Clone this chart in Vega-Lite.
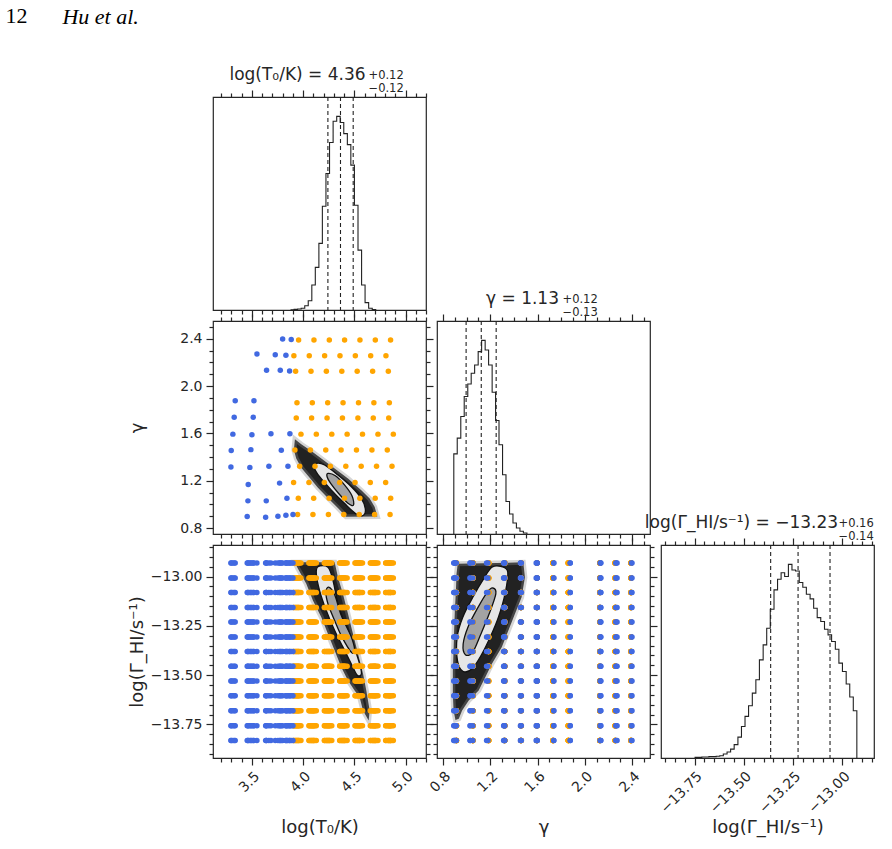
{
"$schema": "https://vega.github.io/schema/vega-lite/v6.json",
"padding": 5,
"background": "white",
"title": {"text": "12", "anchor": "start", "font": "Liberation Serif", "fontSize": 22, "fontWeight": "normal", "color": "#000000", "dx": -57, "offset": -22},
"datasets": {
"grid": [
{"t":3.956,"g":2.389,"c":"o"},{"t":4.106,"g":2.389,"c":"o"},{"t":4.256,"g":2.389,"c":"o"},{"t":4.405,"g":2.389,"c":"o"},{"t":4.555,"g":2.389,"c":"o"},{"t":4.705,"g":2.389,"c":"o"},{"t":4.854,"g":2.389,"c":"o"},
{"t":3.910,"g":2.256,"c":"o"},{"t":4.060,"g":2.256,"c":"o"},{"t":4.210,"g":2.256,"c":"o"},{"t":4.360,"g":2.256,"c":"o"},{"t":4.510,"g":2.256,"c":"o"},{"t":4.660,"g":2.256,"c":"o"},{"t":4.809,"g":2.256,"c":"o"},
{"t":3.927,"g":2.126,"c":"o"},{"t":4.077,"g":2.126,"c":"o"},{"t":4.227,"g":2.126,"c":"o"},{"t":4.378,"g":2.126,"c":"o"},{"t":4.528,"g":2.126,"c":"o"},{"t":4.679,"g":2.126,"c":"o"},{"t":4.832,"g":2.126,"c":"o"},
{"t":3.940,"g":1.860,"c":"o"},{"t":4.090,"g":1.860,"c":"o"},{"t":4.240,"g":1.860,"c":"o"},{"t":4.390,"g":1.860,"c":"o"},{"t":4.541,"g":1.860,"c":"o"},{"t":4.691,"g":1.860,"c":"o"},{"t":4.842,"g":1.860,"c":"o"},
{"t":3.933,"g":1.730,"c":"o"},{"t":4.083,"g":1.730,"c":"o"},{"t":4.234,"g":1.730,"c":"o"},{"t":4.384,"g":1.730,"c":"o"},{"t":4.535,"g":1.730,"c":"o"},{"t":4.685,"g":1.730,"c":"o"},{"t":4.836,"g":1.730,"c":"o"},
{"t":3.979,"g":1.594,"c":"o"},{"t":4.129,"g":1.594,"c":"o"},{"t":4.280,"g":1.594,"c":"o"},{"t":4.430,"g":1.594,"c":"o"},{"t":4.580,"g":1.594,"c":"o"},{"t":4.731,"g":1.594,"c":"o"},{"t":4.881,"g":1.594,"c":"o"},
{"t":3.920,"g":1.460,"c":"o"},{"t":4.071,"g":1.460,"c":"o"},{"t":4.221,"g":1.460,"c":"o"},{"t":4.371,"g":1.460,"c":"o"},{"t":4.521,"g":1.460,"c":"o"},{"t":4.672,"g":1.460,"c":"o"},{"t":4.822,"g":1.460,"c":"o"},
{"t":3.966,"g":1.322,"c":"o"},{"t":4.116,"g":1.322,"c":"o"},{"t":4.266,"g":1.322,"c":"o"},{"t":4.417,"g":1.322,"c":"o"},{"t":4.567,"g":1.322,"c":"o"},{"t":4.717,"g":1.322,"c":"o"},{"t":4.868,"g":1.322,"c":"o"},
{"t":3.907,"g":1.186,"c":"o"},{"t":4.057,"g":1.186,"c":"o"},{"t":4.207,"g":1.186,"c":"o"},{"t":4.357,"g":1.186,"c":"o"},{"t":4.507,"g":1.186,"c":"o"},{"t":4.656,"g":1.186,"c":"o"},{"t":4.806,"g":1.186,"c":"o"},
{"t":3.953,"g":1.053,"c":"o"},{"t":4.103,"g":1.053,"c":"o"},{"t":4.254,"g":1.053,"c":"o"},{"t":4.404,"g":1.053,"c":"o"},{"t":4.554,"g":1.053,"c":"o"},{"t":4.704,"g":1.053,"c":"o"},{"t":4.855,"g":1.053,"c":"o"},
{"t":3.946,"g":0.914,"c":"o"},{"t":4.096,"g":0.914,"c":"o"},{"t":4.247,"g":0.914,"c":"o"},{"t":4.397,"g":0.914,"c":"o"},{"t":4.548,"g":0.914,"c":"o"},{"t":4.698,"g":0.914,"c":"o"},{"t":4.849,"g":0.914,"c":"o"},
{"t":3.800,"g":2.398,"c":"b"},{"t":3.884,"g":2.393,"c":"b"},
{"t":3.549,"g":2.272,"c":"b"},{"t":3.728,"g":2.264,"c":"b"},{"t":3.832,"g":2.261,"c":"b"},
{"t":3.643,"g":2.134,"c":"b"},{"t":3.777,"g":2.134,"c":"b"},{"t":3.868,"g":2.128,"c":"b"},
{"t":3.337,"g":1.876,"c":"b"},{"t":3.520,"g":1.876,"c":"b"},
{"t":3.327,"g":1.737,"c":"b"},{"t":3.513,"g":1.737,"c":"b"},
{"t":3.314,"g":1.594,"c":"b"},{"t":3.500,"g":1.588,"c":"b"},{"t":3.686,"g":1.597,"c":"b"},{"t":3.871,"g":1.597,"c":"b"},
{"t":3.298,"g":1.455,"c":"b"},{"t":3.490,"g":1.463,"c":"b"},{"t":3.787,"g":1.458,"c":"b"},
{"t":3.295,"g":1.316,"c":"b"},{"t":3.480,"g":1.313,"c":"b"},{"t":3.666,"g":1.322,"c":"b"},{"t":3.852,"g":1.322,"c":"b"},
{"t":3.464,"g":1.169,"c":"b"},{"t":3.770,"g":1.180,"c":"b"},
{"t":3.461,"g":1.030,"c":"b"},{"t":3.640,"g":1.030,"c":"b"},{"t":3.842,"g":1.053,"c":"b"},
{"t":3.454,"g":0.897,"c":"b"},{"t":3.634,"g":0.891,"c":"b"},{"t":3.754,"g":0.900,"c":"b"},{"t":3.832,"g":0.908,"c":"b"},{"t":3.901,"g":0.914,"c":"b"}
],
"gv": [
{"c":"o","G":[-12.931,-13.007,-13.081,-13.157,-13.23,-13.306,-13.38,-13.455,-13.529,-13.604,-13.681,-13.757,-13.831]},
{"c":"b","G":[-12.931,-13.007,-13.081,-13.157,-13.23,-13.306,-13.38,-13.455,-13.529,-13.604,-13.681,-13.757,-13.831]}
],
"hT": [
{"i":0,"x":3.877,"h":0.001},{"i":1,"x":3.912,"h":0.003},{"i":2,"x":3.946,"h":0.005},{"i":3,"x":3.981,"h":0.009},{"i":4,"x":4.016,"h":0.022},{"i":5,"x":4.050,"h":0.048},{"i":6,"x":4.085,"h":0.129},{"i":7,"x":4.119,"h":0.220},{"i":8,"x":4.154,"h":0.344},{"i":9,"x":4.188,"h":0.536},{"i":10,"x":4.223,"h":0.705},{"i":11,"x":4.258,"h":0.865},{"i":12,"x":4.293,"h":0.975},{"i":13,"x":4.328,"h":1.0},{"i":14,"x":4.362,"h":0.968},{"i":15,"x":4.397,"h":0.911},{"i":16,"x":4.432,"h":0.854},{"i":17,"x":4.466,"h":0.748},{"i":18,"x":4.501,"h":0.541},{"i":19,"x":4.536,"h":0.309},{"i":20,"x":4.571,"h":0.129},{"i":21,"x":4.605,"h":0.038},{"i":22,"x":4.640,"h":0.009},{"i":23,"x":4.675,"h":0.002},{"i":24,"x":4.709,"h":0}
],
"hg": [
{"i":0,"x":0.892,"h":0},{"i":1,"x":0.892,"h":0.414},{"i":2,"x":0.921,"h":0.495},{"i":3,"x":0.951,"h":0.607},{"i":4,"x":0.980,"h":0.710},{"i":5,"x":1.010,"h":0.775},{"i":6,"x":1.039,"h":0.830},{"i":7,"x":1.068,"h":0.873},{"i":8,"x":1.098,"h":0.942},{"i":9,"x":1.127,"h":1.0},{"i":10,"x":1.157,"h":0.950},{"i":11,"x":1.186,"h":0.873},{"i":12,"x":1.216,"h":0.732},{"i":13,"x":1.245,"h":0.586},{"i":14,"x":1.274,"h":0.461},{"i":15,"x":1.304,"h":0.306},{"i":16,"x":1.333,"h":0.168},{"i":17,"x":1.363,"h":0.103},{"i":18,"x":1.392,"h":0.057},{"i":19,"x":1.421,"h":0.031},{"i":20,"x":1.451,"h":0.014},{"i":21,"x":1.480,"h":0.005},{"i":22,"x":1.510,"h":0}
],
"hG": [
{"i":0,"x":-13.750,"h":0.003},{"i":1,"x":-13.732,"h":0.003},{"i":2,"x":-13.713,"h":0.005},{"i":3,"x":-13.695,"h":0.005},{"i":4,"x":-13.677,"h":0.007},{"i":5,"x":-13.659,"h":0.007},{"i":6,"x":-13.640,"h":0.009},{"i":7,"x":-13.622,"h":0.012},{"i":8,"x":-13.604,"h":0.021},{"i":9,"x":-13.585,"h":0.031},{"i":10,"x":-13.567,"h":0.046},{"i":11,"x":-13.549,"h":0.069},{"i":12,"x":-13.530,"h":0.108},{"i":13,"x":-13.512,"h":0.163},{"i":14,"x":-13.494,"h":0.215},{"i":15,"x":-13.476,"h":0.270},{"i":16,"x":-13.457,"h":0.335},{"i":17,"x":-13.439,"h":0.404},{"i":18,"x":-13.421,"h":0.507},{"i":19,"x":-13.402,"h":0.584},{"i":20,"x":-13.384,"h":0.670},{"i":21,"x":-13.366,"h":0.768},{"i":22,"x":-13.347,"h":0.868},{"i":23,"x":-13.329,"h":0.923},{"i":24,"x":-13.311,"h":0.957},{"i":25,"x":-13.293,"h":0.937},{"i":26,"x":-13.274,"h":1.0},{"i":27,"x":-13.256,"h":0.971},{"i":28,"x":-13.238,"h":0.966},{"i":29,"x":-13.219,"h":0.906},{"i":30,"x":-13.201,"h":0.882},{"i":31,"x":-13.183,"h":0.846},{"i":32,"x":-13.164,"h":0.822},{"i":33,"x":-13.146,"h":0.773},{"i":34,"x":-13.128,"h":0.725},{"i":35,"x":-13.110,"h":0.705},{"i":36,"x":-13.091,"h":0.665},{"i":37,"x":-13.073,"h":0.636},{"i":38,"x":-13.055,"h":0.602},{"i":39,"x":-13.036,"h":0.562},{"i":40,"x":-13.018,"h":0.490},{"i":41,"x":-13.000,"h":0.447},{"i":42,"x":-12.981,"h":0.382},{"i":43,"x":-12.963,"h":0.315},{"i":44,"x":-12.945,"h":0.244},{"i":45,"x":-12.927,"h":0}
],
"qT": [{"q":4.242},{"q":4.365},{"q":4.489}],
"qg": [{"q":0.996},{"q":1.124},{"q":1.250}],
"qG": [{"q":-13.364},{"q":-13.225},{"q":-13.063}],
"dTg": [
{"p":"h","i":0,"t":3.920,"g":1.550},{"p":"h","i":1,"t":3.982,"g":1.508},{"p":"h","i":2,"t":4.080,"g":1.452},{"p":"h","i":3,"t":4.178,"g":1.389},{"p":"h","i":4,"t":4.308,"g":1.304},{"p":"h","i":5,"t":4.438,"g":1.219},{"p":"h","i":6,"t":4.568,"g":1.120},{"p":"h","i":7,"t":4.650,"g":1.049},{"p":"h","i":8,"t":4.699,"g":0.978},{"p":"h","i":9,"t":4.725,"g":0.898},{"p":"h","i":10,"t":4.420,"g":0.896},{"p":"h","i":11,"t":4.340,"g":0.970},{"p":"h","i":12,"t":4.242,"g":1.055},{"p":"h","i":13,"t":4.145,"g":1.140},{"p":"h","i":14,"t":4.064,"g":1.225},{"p":"h","i":15,"t":3.982,"g":1.310},{"p":"h","i":16,"t":3.933,"g":1.389},{"p":"h","i":17,"t":3.910,"g":1.460},
{"p":"l","i":0,"t":4.129,"g":1.347},{"p":"l","i":1,"t":4.210,"g":1.333},{"p":"l","i":2,"t":4.340,"g":1.248},{"p":"l","i":3,"t":4.471,"g":1.149},{"p":"l","i":4,"t":4.568,"g":1.050},{"p":"l","i":5,"t":4.607,"g":0.965},{"p":"l","i":6,"t":4.590,"g":0.908},{"p":"l","i":7,"t":4.520,"g":0.918},{"p":"l","i":8,"t":4.406,"g":1.007},{"p":"l","i":9,"t":4.276,"g":1.121},{"p":"l","i":10,"t":4.161,"g":1.234},{"p":"l","i":11,"t":4.112,"g":1.305},
{"p":"n","i":0,"t":4.243,"g":1.262},{"p":"n","i":1,"t":4.315,"g":1.242},{"p":"n","i":2,"t":4.406,"g":1.163},{"p":"n","i":3,"t":4.478,"g":1.072},{"p":"n","i":4,"t":4.492,"g":0.995},{"p":"n","i":5,"t":4.438,"g":1.010},{"p":"n","i":6,"t":4.347,"g":1.092},{"p":"n","i":7,"t":4.269,"g":1.177},{"p":"n","i":8,"t":4.234,"g":1.234}
],
"dTG": [
{"p":"h","i":0,"t":3.917,"G":-12.928},{"p":"h","i":1,"t":4.308,"G":-12.928},{"p":"h","i":2,"t":4.340,"G":-13.004},{"p":"h","i":3,"t":4.389,"G":-13.088},{"p":"h","i":4,"t":4.438,"G":-13.189},{"p":"h","i":5,"t":4.487,"G":-13.291},{"p":"h","i":6,"t":4.536,"G":-13.392},{"p":"h","i":7,"t":4.585,"G":-13.493},{"p":"h","i":8,"t":4.617,"G":-13.578},{"p":"h","i":9,"t":4.650,"G":-13.679},{"p":"h","i":10,"t":4.640,"G":-13.730},{"p":"h","i":11,"t":4.585,"G":-13.679},{"p":"h","i":12,"t":4.552,"G":-13.612},{"p":"h","i":13,"t":4.503,"G":-13.578},{"p":"h","i":14,"t":4.438,"G":-13.527},{"p":"h","i":15,"t":4.373,"G":-13.460},{"p":"h","i":16,"t":4.308,"G":-13.375},{"p":"h","i":17,"t":4.243,"G":-13.291},{"p":"h","i":18,"t":4.178,"G":-13.206},{"p":"h","i":19,"t":4.096,"G":-13.122},{"p":"h","i":20,"t":4.031,"G":-13.037},{"p":"h","i":21,"t":3.950,"G":-12.961},
{"p":"l","i":0,"t":4.145,"G":-12.950},{"p":"l","i":1,"t":4.243,"G":-12.953},{"p":"l","i":2,"t":4.292,"G":-13.021},{"p":"l","i":3,"t":4.340,"G":-13.139},{"p":"l","i":4,"t":4.406,"G":-13.240},{"p":"l","i":5,"t":4.487,"G":-13.341},{"p":"l","i":6,"t":4.552,"G":-13.443},{"p":"l","i":7,"t":4.569,"G":-13.493},{"p":"l","i":8,"t":4.529,"G":-13.500},{"p":"l","i":9,"t":4.471,"G":-13.443},{"p":"l","i":10,"t":4.389,"G":-13.358},{"p":"l","i":11,"t":4.308,"G":-13.274},{"p":"l","i":12,"t":4.226,"G":-13.172},{"p":"l","i":13,"t":4.161,"G":-13.071},{"p":"l","i":14,"t":4.129,"G":-12.987},
{"p":"n","i":0,"t":4.249,"G":-13.054},{"p":"n","i":1,"t":4.308,"G":-13.092},{"p":"n","i":2,"t":4.373,"G":-13.198},{"p":"n","i":3,"t":4.471,"G":-13.307},{"p":"n","i":4,"t":4.503,"G":-13.375},{"p":"n","i":5,"t":4.471,"G":-13.384},{"p":"n","i":6,"t":4.380,"G":-13.307},{"p":"n","i":7,"t":4.308,"G":-13.223},{"p":"n","i":8,"t":4.243,"G":-13.139},{"p":"n","i":9,"t":4.223,"G":-13.080}
],
"dgG": [
{"p":"h","i":0,"g":0.925,"G":-12.935},{"p":"h","i":1,"g":1.479,"G":-12.928},{"p":"h","i":2,"g":1.493,"G":-13.004},{"p":"h","i":3,"g":1.465,"G":-13.105},{"p":"h","i":4,"g":1.409,"G":-13.189},{"p":"h","i":5,"g":1.353,"G":-13.274},{"p":"h","i":6,"g":1.297,"G":-13.358},{"p":"h","i":7,"g":1.213,"G":-13.443},{"p":"h","i":8,"g":1.158,"G":-13.510},{"p":"h","i":9,"g":1.102,"G":-13.578},{"p":"h","i":10,"g":1.018,"G":-13.628},{"p":"h","i":11,"g":0.962,"G":-13.679},{"p":"h","i":12,"g":0.934,"G":-13.721},{"p":"h","i":13,"g":0.906,"G":-13.727},{"p":"h","i":14,"g":0.890,"G":-13.679},{"p":"h","i":15,"g":0.884,"G":-13.595},{"p":"h","i":16,"g":0.884,"G":-13.477},{"p":"h","i":17,"g":0.890,"G":-13.375},{"p":"h","i":18,"g":0.895,"G":-13.274},{"p":"h","i":19,"g":0.901,"G":-13.172},{"p":"h","i":20,"g":0.910,"G":-13.071},{"p":"h","i":21,"g":0.915,"G":-12.987},
{"p":"l","i":0,"g":1.214,"G":-12.953},{"p":"l","i":1,"g":1.297,"G":-12.950},{"p":"l","i":2,"g":1.348,"G":-12.978},{"p":"l","i":3,"g":1.325,"G":-13.088},{"p":"l","i":4,"g":1.269,"G":-13.206},{"p":"l","i":5,"g":1.199,"G":-13.308},{"p":"l","i":6,"g":1.130,"G":-13.392},{"p":"l","i":7,"g":1.046,"G":-13.468},{"p":"l","i":8,"g":0.968,"G":-13.480},{"p":"l","i":9,"g":0.923,"G":-13.426},{"p":"l","i":10,"g":0.920,"G":-13.308},{"p":"l","i":11,"g":0.968,"G":-13.206},{"p":"l","i":12,"g":1.060,"G":-13.097},{"p":"l","i":13,"g":1.144,"G":-13.012},
{"p":"n","i":0,"g":1.222,"G":-13.058},{"p":"n","i":1,"g":1.247,"G":-13.088},{"p":"n","i":2,"g":1.191,"G":-13.189},{"p":"n","i":3,"g":1.121,"G":-13.291},{"p":"n","i":4,"g":1.051,"G":-13.384},{"p":"n","i":5,"g":0.990,"G":-13.396},{"p":"n","i":6,"g":0.971,"G":-13.342},{"p":"n","i":7,"g":1.013,"G":-13.254},{"p":"n","i":8,"g":1.094,"G":-13.159},{"p":"n","i":9,"g":1.174,"G":-13.080}
]
},
"vconcat": [{
"title": {"text": "Hu et al.", "anchor": "start", "font": "Liberation Serif", "fontSize": 22, "fontStyle": "italic", "fontWeight": "normal", "color": "#000000", "dx": -65, "offset": 36},
"columns": 3,
"spacing": 11,
"bounds": "flush",
"concat": [
{
"width": 213, "height": 213,
"title": {"text": "log(T₀/K) = 4.36", "offset": -15, "fontSize": 17, "dx": -22},
"layer": [
{"data": {"name": "hT"}, "mark": {"type": "line", "interpolate": "step-after", "color": "#222222", "strokeWidth": 1.1},
 "encoding": {
  "x": {"field": "x", "type": "quantitative", "scale": {"domain": [3.12, 5.2], "nice": false, "zero": false},
        "axis": {"orient": "bottom", "values": [3.2,3.3,3.4,3.5,3.6,3.7,3.8,3.9,4.0,4.1,4.2,4.3,4.4,4.5,4.6,4.7,4.8,4.9,5.0,5.1,5.2], "labels": false, "title": null, "tickSize": {"condition": {"test": "abs(datum.value*2-round(datum.value*2))<0.001", "value": 7}, "value": 4}}},
  "y": {"field": "h", "type": "quantitative", "scale": {"domain": [0, 1.1], "nice": false}, "axis": null},
  "order": {"field": "i", "type": "quantitative"}}},
{"data": {"name": "qT"}, "mark": {"type": "rule", "color": "#222222", "strokeDash": [4, 3], "strokeWidth": 1.1},
 "encoding": {
  "x": {"field": "q", "type": "quantitative", "scale": {"domain": [3.12, 5.2], "nice": false, "zero": false},
        "axis": {"orient": "top", "values": [3.2,3.3,3.4,3.5,3.6,3.7,3.8,3.9,4.0,4.1,4.2,4.3,4.4,4.5,4.6,4.7,4.8,4.9,5.0,5.1,5.2], "labels": false, "title": ["+0.12", "−0.12"], "titleX": 155, "titleY": -28, "titleAlign": "left", "titleBaseline": "top", "titleAngle": 0, "titleFontSize": 11.5, "titleLineHeight": 13, "tickSize": {"condition": {"test": "abs(datum.value*2-round(datum.value*2))<0.001", "value": 7}, "value": 4}}}}}
],
"resolve": {"axis": {"x": "independent"}}
},
{"width": 213, "height": 213, "data": {"values": []}, "mark": "point", "encoding": {}, "view": {"stroke": null}},
{"width": 213, "height": 213, "data": {"values": []}, "mark": "point", "encoding": {}, "view": {"stroke": null}},
{
"width": 213, "height": 213,
"layer": [
{"data": {"name": "dTg"}, "transform": [{"filter": "datum.p == 'h'"}],
 "mark": {"type": "line", "interpolate": "linear-closed", "fill": "#222222", "stroke": "#888888", "strokeWidth": 5, "strokeOpacity": 0.35},
 "encoding": {
  "x": {"field": "t", "type": "quantitative", "scale": {"domain": [3.12, 5.2], "nice": false, "zero": false},
        "axis": {"orient": "bottom", "values": [3.2,3.3,3.4,3.5,3.6,3.7,3.8,3.9,4.0,4.1,4.2,4.3,4.4,4.5,4.6,4.7,4.8,4.9,5.0,5.1,5.2], "labels": false, "title": null, "tickSize": {"condition": {"test": "abs(datum.value*2-round(datum.value*2))<0.001", "value": 7}, "value": 4}}},
  "y": {"field": "g", "type": "quantitative", "scale": {"domain": [0.75, 2.55], "nice": false, "zero": false},
        "axis": {"orient": "left", "values": [0.8,0.9,1.0,1.1,1.2,1.3,1.4,1.5,1.6,1.7,1.8,1.9,2.0,2.1,2.2,2.3,2.4,2.5], "format": ".1f", "labelExpr": "abs(datum.value*2.5-round(datum.value*2.5))<0.001 ? datum.label : ''", "labelOverlap": false, "labelFlush": false, "title": "γ", "titleX": -67, "tickSize": {"condition": {"test": "abs(datum.value*2.5-round(datum.value*2.5))<0.001", "value": 7}, "value": 4}}},
  "order": {"field": "i", "type": "quantitative"}}},
{"data": {"name": "dTg"}, "transform": [{"filter": "datum.p == 'l'"}],
 "mark": {"type": "line", "interpolate": "cardinal-closed", "fill": "#e6e6e6", "stroke": "#111111", "strokeWidth": 1.3},
 "encoding": {
  "x": {"field": "t", "type": "quantitative", "scale": {"domain": [3.12, 5.2], "nice": false, "zero": false},
        "axis": {"orient": "top", "values": [3.2,3.3,3.4,3.5,3.6,3.7,3.8,3.9,4.0,4.1,4.2,4.3,4.4,4.5,4.6,4.7,4.8,4.9,5.0,5.1,5.2], "labels": false, "title": null, "tickSize": {"condition": {"test": "abs(datum.value*2-round(datum.value*2))<0.001", "value": 7}, "value": 4}}},
  "y": {"field": "g", "type": "quantitative", "scale": {"domain": [0.75, 2.55], "nice": false, "zero": false},
        "axis": {"orient": "right", "values": [0.8,0.9,1.0,1.1,1.2,1.3,1.4,1.5,1.6,1.7,1.8,1.9,2.0,2.1,2.2,2.3,2.4,2.5], "labels": false, "title": null, "tickSize": {"condition": {"test": "abs(datum.value*2.5-round(datum.value*2.5))<0.001", "value": 7}, "value": 4}}},
  "order": {"field": "i", "type": "quantitative"}}},
{"data": {"name": "dTg"}, "transform": [{"filter": "datum.p == 'n'"}],
 "mark": {"type": "line", "interpolate": "cardinal-closed", "fill": "#a3a3a3", "stroke": "#111111", "strokeWidth": 1.3},
 "encoding": {
  "x": {"field": "t", "type": "quantitative", "scale": {"domain": [3.12, 5.2], "nice": false, "zero": false}, "axis": null},
  "y": {"field": "g", "type": "quantitative", "scale": {"domain": [0.75, 2.55], "nice": false, "zero": false}, "axis": null},
  "order": {"field": "i", "type": "quantitative"}}},
{"data": {"name": "grid"},
 "mark": {"type": "circle", "size": 30, "opacity": 1},
 "encoding": {
  "x": {"field": "t", "type": "quantitative", "scale": {"domain": [3.12, 5.2], "nice": false, "zero": false}, "axis": null},
  "y": {"field": "g", "type": "quantitative", "scale": {"domain": [0.75, 2.55], "nice": false, "zero": false}, "axis": null},
  "color": {"field": "c", "type": "nominal", "scale": {"domain": ["o", "b"], "range": ["#ffa500", "#4169e1"]}, "legend": null}}}
],
"resolve": {"axis": {"x": "independent", "y": "independent"}}
},
{
"width": 213, "height": 213,
"title": {"text": "γ = 1.13", "offset": -15, "fontSize": 17, "dx": -21},
"layer": [
{"data": {"name": "hg"}, "mark": {"type": "line", "interpolate": "step-after", "color": "#222222", "strokeWidth": 1.1},
 "encoding": {
  "x": {"field": "x", "type": "quantitative", "scale": {"domain": [0.75, 2.55], "nice": false, "zero": false},
        "axis": {"orient": "bottom", "values": [0.8,0.9,1.0,1.1,1.2,1.3,1.4,1.5,1.6,1.7,1.8,1.9,2.0,2.1,2.2,2.3,2.4,2.5], "labels": false, "title": null, "tickSize": {"condition": {"test": "abs(datum.value*2.5-round(datum.value*2.5))<0.001", "value": 7}, "value": 4}}},
  "y": {"field": "h", "type": "quantitative", "scale": {"domain": [0, 1.1], "nice": false}, "axis": null},
  "order": {"field": "i", "type": "quantitative"}}},
{"data": {"name": "qg"}, "mark": {"type": "rule", "color": "#222222", "strokeDash": [4, 3], "strokeWidth": 1.1},
 "encoding": {
  "x": {"field": "q", "type": "quantitative", "scale": {"domain": [0.75, 2.55], "nice": false, "zero": false},
        "axis": {"orient": "top", "values": [0.8,0.9,1.0,1.1,1.2,1.3,1.4,1.5,1.6,1.7,1.8,1.9,2.0,2.1,2.2,2.3,2.4,2.5], "labels": false, "title": ["+0.12", "−0.13"], "titleX": 125, "titleY": -28, "titleAlign": "left", "titleBaseline": "top", "titleAngle": 0, "titleFontSize": 11.5, "titleLineHeight": 13, "tickSize": {"condition": {"test": "abs(datum.value*2.5-round(datum.value*2.5))<0.001", "value": 7}, "value": 4}}}}}
],
"resolve": {"axis": {"x": "independent"}}
},
{"width": 213, "height": 213, "data": {"values": []}, "mark": "point", "encoding": {}, "view": {"stroke": null}},
{
"width": 213, "height": 213,
"layer": [
{"data": {"name": "dTG"}, "transform": [{"filter": "datum.p == 'h'"}],
 "mark": {"type": "line", "interpolate": "linear-closed", "fill": "#222222", "stroke": "#888888", "strokeWidth": 5, "strokeOpacity": 0.35},
 "encoding": {
  "x": {"field": "t", "type": "quantitative", "scale": {"domain": [3.12, 5.2], "nice": false, "zero": false},
        "axis": {"orient": "bottom", "values": [3.2,3.3,3.4,3.5,3.6,3.7,3.8,3.9,4.0,4.1,4.2,4.3,4.4,4.5,4.6,4.7,4.8,4.9,5.0,5.1,5.2], "format": ".1f", "labelExpr": "abs(datum.value*2-round(datum.value*2))<0.001 ? datum.label : ''", "labelAngle": -45, "labelAlign": "right", "labelBaseline": "top", "labelOverlap": false, "labelFlush": false, "title": "log(T₀/K)", "titleY": 60, "titleBaseline": "top", "tickSize": {"condition": {"test": "abs(datum.value*2-round(datum.value*2))<0.001", "value": 7}, "value": 4}}},
  "y": {"field": "G", "type": "quantitative", "scale": {"domain": [-13.92, -12.84], "nice": false, "zero": false},
        "axis": {"orient": "left", "values": [-13.9,-13.85,-13.8,-13.75,-13.7,-13.65,-13.6,-13.55,-13.5,-13.45,-13.4,-13.35,-13.3,-13.25,-13.2,-13.15,-13.1,-13.05,-13.0,-12.95,-12.9,-12.85], "format": ".2f", "labelExpr": "abs(datum.value*4-round(datum.value*4))<0.001 ? datum.label : ''", "labelOverlap": false, "labelFlush": false, "title": "log(Γ_HI/s⁻¹)", "titleX": -67, "tickSize": {"condition": {"test": "abs(datum.value*4-round(datum.value*4))<0.001", "value": 7}, "value": 4}}},
  "order": {"field": "i", "type": "quantitative"}}},
{"data": {"name": "dTG"}, "transform": [{"filter": "datum.p == 'l'"}],
 "mark": {"type": "line", "interpolate": "cardinal-closed", "fill": "#e6e6e6", "stroke": "#111111", "strokeWidth": 1.3},
 "encoding": {
  "x": {"field": "t", "type": "quantitative", "scale": {"domain": [3.12, 5.2], "nice": false, "zero": false},
        "axis": {"orient": "top", "values": [3.2,3.3,3.4,3.5,3.6,3.7,3.8,3.9,4.0,4.1,4.2,4.3,4.4,4.5,4.6,4.7,4.8,4.9,5.0,5.1,5.2], "labels": false, "title": null, "tickSize": {"condition": {"test": "abs(datum.value*2-round(datum.value*2))<0.001", "value": 7}, "value": 4}}},
  "y": {"field": "G", "type": "quantitative", "scale": {"domain": [-13.92, -12.84], "nice": false, "zero": false},
        "axis": {"orient": "right", "values": [-13.9,-13.85,-13.8,-13.75,-13.7,-13.65,-13.6,-13.55,-13.5,-13.45,-13.4,-13.35,-13.3,-13.25,-13.2,-13.15,-13.1,-13.05,-13.0,-12.95,-12.9,-12.85], "labels": false, "title": null, "tickSize": {"condition": {"test": "abs(datum.value*4-round(datum.value*4))<0.001", "value": 7}, "value": 4}}},
  "order": {"field": "i", "type": "quantitative"}}},
{"data": {"name": "dTG"}, "transform": [{"filter": "datum.p == 'n'"}],
 "mark": {"type": "line", "interpolate": "cardinal-closed", "fill": "#a3a3a3", "stroke": "#111111", "strokeWidth": 1.3},
 "encoding": {
  "x": {"field": "t", "type": "quantitative", "scale": {"domain": [3.12, 5.2], "nice": false, "zero": false}, "axis": null},
  "y": {"field": "G", "type": "quantitative", "scale": {"domain": [-13.92, -12.84], "nice": false, "zero": false}, "axis": null},
  "order": {"field": "i", "type": "quantitative"}}},
{"data": {"name": "grid"},
 "transform": [{"lookup": "c", "from": {"data": {"name": "gv"}, "key": "c", "fields": ["G"]}}, {"flatten": ["G"]}],
 "mark": {"type": "circle", "size": 30, "opacity": 1},
 "encoding": {
  "x": {"field": "t", "type": "quantitative", "scale": {"domain": [3.12, 5.2], "nice": false, "zero": false}, "axis": null},
  "y": {"field": "G", "type": "quantitative", "scale": {"domain": [-13.92, -12.84], "nice": false, "zero": false}, "axis": null},
  "color": {"field": "c", "type": "nominal", "scale": {"domain": ["o", "b"], "range": ["#ffa500", "#4169e1"]}, "legend": null}}}
],
"resolve": {"axis": {"x": "independent", "y": "independent"}}
},
{
"width": 213, "height": 213,
"layer": [
{"data": {"name": "dgG"}, "transform": [{"filter": "datum.p == 'h'"}],
 "mark": {"type": "line", "interpolate": "linear-closed", "fill": "#222222", "stroke": "#888888", "strokeWidth": 5, "strokeOpacity": 0.35},
 "encoding": {
  "x": {"field": "g", "type": "quantitative", "scale": {"domain": [0.75, 2.55], "nice": false, "zero": false},
        "axis": {"orient": "bottom", "values": [0.8,0.9,1.0,1.1,1.2,1.3,1.4,1.5,1.6,1.7,1.8,1.9,2.0,2.1,2.2,2.3,2.4,2.5], "format": ".1f", "labelExpr": "abs(datum.value*2.5-round(datum.value*2.5))<0.001 ? datum.label : ''", "labelAngle": -45, "labelAlign": "right", "labelBaseline": "top", "labelOverlap": false, "labelFlush": false, "title": "γ", "titleY": 60, "titleBaseline": "top", "tickSize": {"condition": {"test": "abs(datum.value*2.5-round(datum.value*2.5))<0.001", "value": 7}, "value": 4}}},
  "y": {"field": "G", "type": "quantitative", "scale": {"domain": [-13.92, -12.84], "nice": false, "zero": false},
        "axis": {"orient": "left", "values": [-13.9,-13.85,-13.8,-13.75,-13.7,-13.65,-13.6,-13.55,-13.5,-13.45,-13.4,-13.35,-13.3,-13.25,-13.2,-13.15,-13.1,-13.05,-13.0,-12.95,-12.9,-12.85], "labels": false, "title": null, "tickSize": {"condition": {"test": "abs(datum.value*4-round(datum.value*4))<0.001", "value": 7}, "value": 4}}},
  "order": {"field": "i", "type": "quantitative"}}},
{"data": {"name": "dgG"}, "transform": [{"filter": "datum.p == 'l'"}],
 "mark": {"type": "line", "interpolate": "cardinal-closed", "fill": "#e6e6e6", "stroke": "#111111", "strokeWidth": 1.3},
 "encoding": {
  "x": {"field": "g", "type": "quantitative", "scale": {"domain": [0.75, 2.55], "nice": false, "zero": false},
        "axis": {"orient": "top", "values": [0.8,0.9,1.0,1.1,1.2,1.3,1.4,1.5,1.6,1.7,1.8,1.9,2.0,2.1,2.2,2.3,2.4,2.5], "labels": false, "title": null, "tickSize": {"condition": {"test": "abs(datum.value*2.5-round(datum.value*2.5))<0.001", "value": 7}, "value": 4}}},
  "y": {"field": "G", "type": "quantitative", "scale": {"domain": [-13.92, -12.84], "nice": false, "zero": false},
        "axis": {"orient": "right", "values": [-13.9,-13.85,-13.8,-13.75,-13.7,-13.65,-13.6,-13.55,-13.5,-13.45,-13.4,-13.35,-13.3,-13.25,-13.2,-13.15,-13.1,-13.05,-13.0,-12.95,-12.9,-12.85], "labels": false, "title": null, "tickSize": {"condition": {"test": "abs(datum.value*4-round(datum.value*4))<0.001", "value": 7}, "value": 4}}},
  "order": {"field": "i", "type": "quantitative"}}},
{"data": {"name": "dgG"}, "transform": [{"filter": "datum.p == 'n'"}],
 "mark": {"type": "line", "interpolate": "cardinal-closed", "fill": "#a3a3a3", "stroke": "#111111", "strokeWidth": 1.3},
 "encoding": {
  "x": {"field": "g", "type": "quantitative", "scale": {"domain": [0.75, 2.55], "nice": false, "zero": false}, "axis": null},
  "y": {"field": "G", "type": "quantitative", "scale": {"domain": [-13.92, -12.84], "nice": false, "zero": false}, "axis": null},
  "order": {"field": "i", "type": "quantitative"}}},
{"data": {"name": "grid"},
 "transform": [{"lookup": "c", "from": {"data": {"name": "gv"}, "key": "c", "fields": ["G"]}}, {"flatten": ["G"]}],
 "mark": {"type": "circle", "size": 30, "opacity": 1},
 "encoding": {
  "x": {"field": "g", "type": "quantitative", "scale": {"domain": [0.75, 2.55], "nice": false, "zero": false}, "axis": null},
  "y": {"field": "G", "type": "quantitative", "scale": {"domain": [-13.92, -12.84], "nice": false, "zero": false}, "axis": null},
  "color": {"field": "c", "type": "nominal", "scale": {"domain": ["o", "b"], "range": ["#ffa500", "#4169e1"]}, "legend": null}}}
],
"resolve": {"axis": {"x": "independent", "y": "independent"}}
},
{
"width": 213, "height": 213,
"title": {"text": "log(Γ_HI/s⁻¹) = −13.23", "offset": -15, "fontSize": 17, "dx": -26},
"layer": [
{"data": {"name": "hG"}, "mark": {"type": "line", "interpolate": "step-after", "color": "#222222", "strokeWidth": 1.1},
 "encoding": {
  "x": {"field": "x", "type": "quantitative", "scale": {"domain": [-13.92, -12.84], "nice": false, "zero": false},
        "axis": {"orient": "bottom", "values": [-13.9,-13.85,-13.8,-13.75,-13.7,-13.65,-13.6,-13.55,-13.5,-13.45,-13.4,-13.35,-13.3,-13.25,-13.2,-13.15,-13.1,-13.05,-13.0,-12.95,-12.9,-12.85], "format": ".2f", "labelExpr": "abs(datum.value*4-round(datum.value*4))<0.001 ? datum.label : ''", "labelAngle": -45, "labelAlign": "right", "labelBaseline": "top", "labelOverlap": false, "labelFlush": false, "title": "log(Γ_HI/s⁻¹)", "titleY": 60, "titleBaseline": "top", "tickSize": {"condition": {"test": "abs(datum.value*4-round(datum.value*4))<0.001", "value": 7}, "value": 4}}},
  "y": {"field": "h", "type": "quantitative", "scale": {"domain": [0, 1.1], "nice": false}, "axis": null},
  "order": {"field": "i", "type": "quantitative"}}},
{"data": {"name": "qG"}, "mark": {"type": "rule", "color": "#222222", "strokeDash": [4, 3], "strokeWidth": 1.1},
 "encoding": {
  "x": {"field": "q", "type": "quantitative", "scale": {"domain": [-13.92, -12.84], "nice": false, "zero": false},
        "axis": {"orient": "top", "values": [-13.9,-13.85,-13.8,-13.75,-13.7,-13.65,-13.6,-13.55,-13.5,-13.45,-13.4,-13.35,-13.3,-13.25,-13.2,-13.15,-13.1,-13.05,-13.0,-12.95,-12.9,-12.85], "labels": false, "title": ["+0.16", "−0.14"], "titleX": 177, "titleY": -28, "titleAlign": "left", "titleBaseline": "top", "titleAngle": 0, "titleFontSize": 11.5, "titleLineHeight": 13, "tickSize": {"condition": {"test": "abs(datum.value*4-round(datum.value*4))<0.001", "value": 7}, "value": 4}}}}}
],
"resolve": {"axis": {"x": "independent"}}
}
]
}],
"config": {
"view": {"stroke": "#262626", "strokeWidth": 1.2},
"font": "DejaVu Sans",
"axis": {"domain": false, "grid": false, "tickColor": "#262626", "tickWidth": 1.2, "labelFont": "DejaVu Sans", "labelFontSize": 14, "labelColor": "#262626", "labelPadding": 4, "titleFont": "DejaVu Sans", "titleFontSize": 18, "titleFontWeight": "normal", "titleColor": "#262626"},
"title": {"font": "DejaVu Sans", "fontSize": 17, "fontWeight": "normal", "color": "#262626"}
}
}
